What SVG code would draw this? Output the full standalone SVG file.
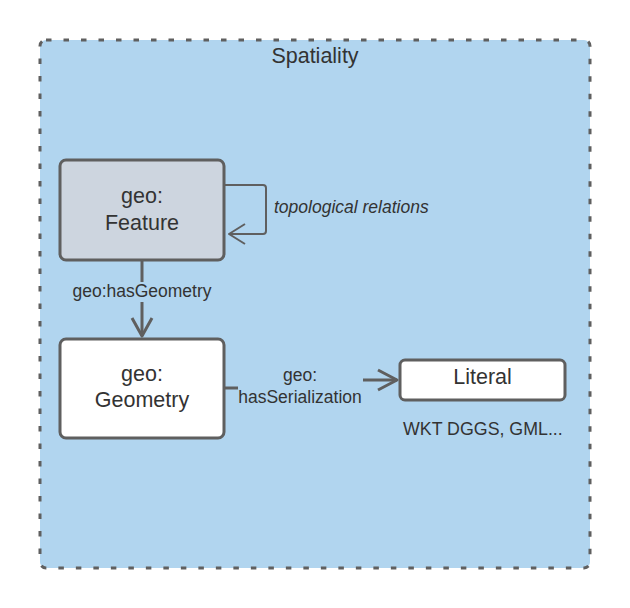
<svg xmlns="http://www.w3.org/2000/svg" width="630" height="608" viewBox="0 0 630 608">
  <style>
    text { font-family: "Liberation Sans", Arial, sans-serif; fill: #333333; }
    .big { font-size: 21.5px; text-anchor: middle; }
    .lbl { font-size: 17.5px; text-anchor: middle; }
    .node { stroke: #5f5f5f; stroke-width: 3; }
    .conn { fill: none; stroke: #5f5f5f; stroke-width: 3; stroke-linejoin: round; }
    .thin { fill: none; stroke: #5f5f5f; stroke-width: 2; stroke-linejoin: round; }
  </style>
  <rect width="630" height="608" fill="#ffffff"/>
  <g id="container">
    <rect x="40" y="40" width="550" height="528" rx="6" fill="#b1d5ef" stroke="#5f5f5f" stroke-width="3" stroke-dasharray="5.5 12"/>
    <text x="315" y="63" class="big">Spatiality</text>
  </g>
  <g id="connectors">
    <path class="thin" d="M225,185 H263 Q266,185 266,188 V231 Q266,234 263,234 H229"/>
    <path class="thin" d="M245,224 L229,234 L245,244"/>
    <text x="274" y="213" style="font-size:17.5px;font-style:italic">topological relations</text>
    <path class="conn" d="M142,261 V282"/>
    <path class="conn" d="M142,302 V336"/>
    <path class="conn" d="M132,318 L142,336 L152,318"/>
    <text x="142" y="296.5" class="lbl">geo:hasGeometry</text>
    <path class="conn" d="M225,388 H238"/>
    <path class="conn" d="M363,380 H397"/>
    <path class="conn" d="M378,370 L397,380 L378,390"/>
    <text x="300" y="381" class="lbl">geo:</text>
    <text x="300" y="402.5" class="lbl">hasSerialization</text>
  </g>
  <g id="feature">
    <rect class="node" x="60" y="160" width="164" height="100" rx="6" fill="#cdd5df"/>
    <text x="142" y="203" class="big">geo:</text>
    <text x="142" y="230" class="big">Feature</text>
  </g>
  <g id="geometry">
    <rect class="node" x="60" y="339" width="164" height="99" rx="6" fill="#ffffff"/>
    <text x="142" y="381" class="big">geo:</text>
    <text x="142" y="407" class="big">Geometry</text>
  </g>
  <g id="literal">
    <rect class="node" x="400" y="360" width="165" height="40" rx="5" fill="#ffffff"/>
    <text x="482.5" y="384" class="big">Literal</text>
  </g>
  <g id="formats">
    <text x="403" y="435" style="font-size:17.8px">WKT DGGS, GML...</text>
  </g>
</svg>
